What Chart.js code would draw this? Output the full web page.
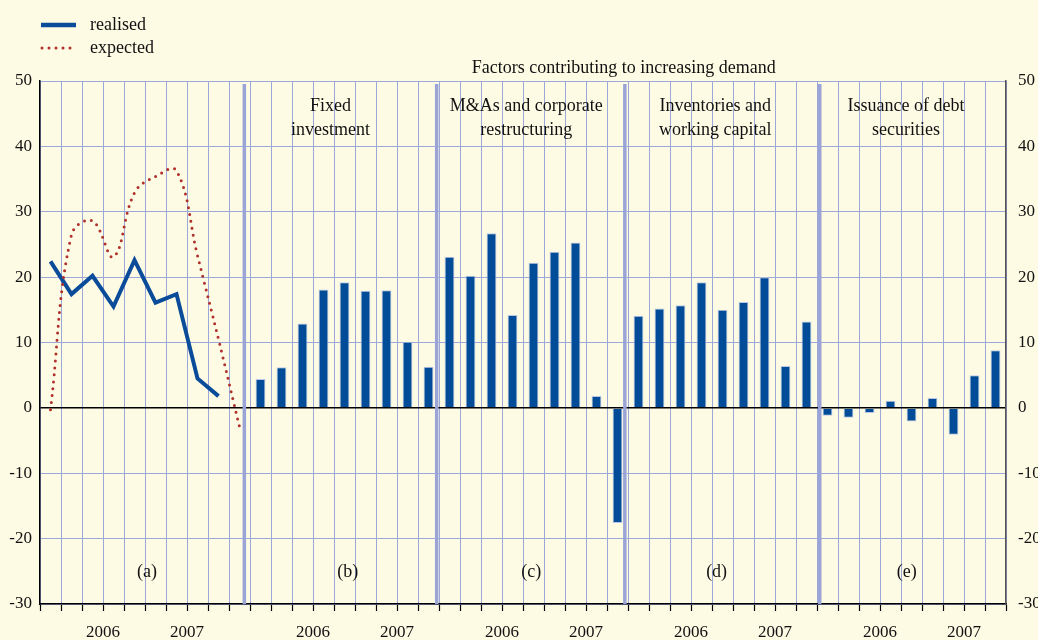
<!DOCTYPE html>
<html>
<head>
<meta charset="utf-8">
<script src="https://cdn.jsdelivr.net/npm/chart.js@4.4.1/dist/chart.umd.min.js"></script>
<style>
  html, body { margin: 0; padding: 0; background: #FEFBE5; }
  #wrap { width: 1038px; height: 640px; position: relative; }
</style>
</head>
<body>
<div id="wrap"><canvas id="c" width="1038" height="640"></canvas></div>
<script>
// ---------------- data ----------------
const quarters = ['2005Q4','2006Q1','2006Q2','2006Q3','2006Q4','2007Q1','2007Q2','2007Q3','2007Q4','2008Q1'];
const panelIds = ['a','b','c','d','e'];
const panelLetters = ['(a)','(b)','(c)','(d)','(e)'];
const panelTitles = [[], ['Fixed','investment'], ['M&As and corporate','restructuring'], ['Inventories and','working capital'], ['Issuance of debt','securities']];
const mainTitle = 'Factors contributing to increasing demand';
const seriesLabels = ['realised', 'expected'];

const realised = [22.4, 17.4, 20.2, 15.5, 22.6, 16.1, 17.4, 4.5, 1.8];
const expected = [-0.3, 26.5, 28.6, 23.1, 32.9, 35.4, 36.3, 23.3, 10.5, -2.9];
const fixedInvestment = [4.4, 6.2, 12.9, 18.1, 19.2, 17.9, 18.0, 10.1, 6.3];
const mergersRestructuring = [23.1, 20.2, 26.7, 14.2, 22.2, 23.9, 25.3, 1.8, -17.6];
const inventoriesWorkingCapital = [14.1, 15.2, 15.7, 19.2, 15.0, 16.2, 20.0, 6.4, 13.2];
const debtSecurities = [-1.2, -1.5, -0.8, 1.1, -2.1, 1.5, -4.1, 5.0, 8.8];
const yearLabels = ['2006', '2007'];
const yTicks = [-30, -20, -10, 0, 10, 20, 30, 40, 50];

// ---------------- build ----------------
const panelQuarterCounts = [10, 9, 9, 9, 9];
const labels = [];
const panelStarts = [];
panelQuarterCounts.forEach((n, p) => {
  panelStarts.push(labels.length);
  quarters.slice(0, n).forEach(q => labels.push(panelIds[p] + ':' + q));
});
const N = labels.length;
const pad = (arr, start) => { const out = new Array(N).fill(null); arr.forEach((v, i) => out[start + i] = v); return out; };

const realisedData = pad(realised, panelStarts[0]);
const expectedData = pad(expected, panelStarts[0]);
const barData = new Array(N).fill(null);
[fixedInvestment, mergersRestructuring, inventoriesWorkingCapital, debtSecurities].forEach((arr, k) => {
  arr.forEach((v, i) => barData[panelStarts[k + 1] + i] = v);
});

// year axis: half-quarter slots (2N+1 boundaries-and-centres, no offset);
// a year label sits at the boundary in the middle of its 4 quarters (quarters 1..4 and 5..8 of each panel)
const yearAxisLabels = new Array(2 * N + 1).fill('');
panelStarts.forEach(s => {
  yearAxisLabels[2 * (s + 3)] = yearLabels[0];
  yearAxisLabels[2 * (s + 7)] = yearLabels[1];
});

const FONT = '"Liberation Serif", "Times New Roman", serif';
const GRID = '#9CA7DA';

// ---------------- plugins ----------------
const bgPlugin = {
  id: 'bg',
  beforeDraw(chart) {
    const { ctx, width, height } = chart;
    ctx.save(); ctx.fillStyle = '#FEFBE5'; ctx.fillRect(0, 0, width, height); ctx.restore();
  }
};

const dividerPlugin = {
  id: 'dividers',
  beforeDatasetsDraw(chart, args, opts) {
    const { ctx, chartArea } = chart; const x = chart.scales.x;
    ctx.save();
    ctx.strokeStyle = opts.color; ctx.lineWidth = opts.width;
    opts.positions.forEach(p => {
      const px = x.getPixelForValue(p);
      ctx.beginPath(); ctx.moveTo(px, chartArea.top + 3); ctx.lineTo(px, chartArea.bottom); ctx.stroke();
    });
    ctx.restore();
  }
};

const textPlugin = {
  id: 'panelText',
  afterDatasetsDraw(chart, args, opts) {
    const { ctx, chartArea } = chart; const x = chart.scales.x; const y = chart.scales.y;
    ctx.save();
    ctx.fillStyle = '#111'; ctx.font = '18px ' + FONT;
    ctx.textAlign = 'center'; ctx.textBaseline = 'middle';
    ctx.fillText(mainTitle, x.getPixelForValue(opts.titlePos), chartArea.top - 13);
    panelTitles.forEach((lines, p) => {
      lines.forEach((t, li) => {
        ctx.fillText(t, x.getPixelForValue(opts.headPos[p]), y.getPixelForValue(opts.headY[li]));
      });
      ctx.fillText(panelLetters[p], x.getPixelForValue(opts.letterPos[p]), y.getPixelForValue(opts.letterY));
    });
    ctx.restore();
  }
};

const legendPlugin = {
  id: 'customLegend',
  afterDraw(chart) {
    const { ctx } = chart;
    ctx.save();
    ctx.strokeStyle = '#0B4C9A'; ctx.lineWidth = 4.5; ctx.lineCap = 'butt';
    ctx.beginPath(); ctx.moveTo(41, 25); ctx.lineTo(76, 25); ctx.stroke();
    ctx.strokeStyle = '#B0302A'; ctx.lineWidth = 3; ctx.lineCap = 'round'; ctx.setLineDash([0, 7]);
    ctx.beginPath(); ctx.moveTo(42, 48); ctx.lineTo(76, 48); ctx.stroke();
    ctx.setLineDash([]);
    ctx.fillStyle = '#111'; ctx.font = '18px ' + FONT; ctx.textAlign = 'left'; ctx.textBaseline = 'middle';
    ctx.fillText(chart.data.datasets[0].label, 90, 25);
    ctx.fillText(chart.data.datasets[1].label, 90, 48);
    ctx.restore();
  }
};

// ---------------- chart ----------------
new Chart(document.getElementById('c'), {
  type: 'bar',
  data: {
    labels: labels,
    datasets: [
      {
        type: 'line', label: seriesLabels[0], data: realisedData,
        borderColor: '#0B4C9A', borderWidth: 4, pointRadius: 0, tension: 0,
        borderJoinStyle: 'miter', spanGaps: false, order: 1
      },
      {
        type: 'line', label: seriesLabels[1], data: expectedData,
        borderColor: '#B0302A', borderWidth: 3, pointRadius: 0, tension: 0.4,
        borderDash: [0, 7], borderCapStyle: 'round', spanGaps: false, order: 0
      },
      {
        type: 'bar', label: 'factors', data: barData,
        backgroundColor: '#004C99', borderColor: '#BCC6E4', borderWidth: 1, borderSkipped: 'start',
        barPercentage: 0.47, categoryPercentage: 1, order: 2
      }
    ]
  },
  options: {
    responsive: false, animation: false, devicePixelRatio: 1,
    layout: { padding: { top: 81, left: 0, right: 0, bottom: 0 } },
    plugins: {
      legend: { display: false }, tooltip: { enabled: false }, title: { display: false },
      dividers: { positions: [9.23, 18.39, 27.35, 36.63], color: '#9AA4D6', width: 3.5 },
      panelText: {
        titlePos: 27.3,
        headPos: [null, 13.33, 22.65, 31.65, 40.74],
        headY: [46.2, 42.5],
        letterPos: [4.59, 14.16, 22.89, 31.72, 40.77],
        letterY: -25.2
      }
    },
    scales: {
      x: {
        type: 'category', offset: true, weight: 0,
        grid: { color: GRID, lineWidth: 1, offset: true, drawTicks: true, tickLength: 7, tickColor: '#000', tickWidth: 1.2 },
        border: { display: true, color: '#000', width: 1.5 },
        ticks: { display: false },
        afterFit: s => { s.height = 8; }
      },
      x2: {
        type: 'category', labels: yearAxisLabels, offset: false, position: 'bottom', weight: 1,
        grid: { display: false, drawTicks: false }, border: { display: false },
        ticks: {
          autoSkip: false, maxRotation: 0, minRotation: 0, padding: 10, color: '#111',
          font: { family: FONT, size: 17 },
          callback: function (v, i) { return yearAxisLabels[i]; }
        },
        afterFit: s => { s.height = 28; }
      },
      y: {
        position: 'left', min: -30, max: 50,
        afterBuildTicks: axis => { axis.ticks = yTicks.map(v => ({ value: v })); },
        grid: {
          drawTicks: false,
          color: c => (c.tick && c.tick.value === 0) ? '#000' : GRID,
          lineWidth: c => (c.tick && c.tick.value === 0) ? 1.5 : 1
        },
        border: { display: true, color: '#000', width: 1.5 },
        ticks: { padding: 8, color: '#111', font: { family: FONT, size: 17 } },
        afterFit: s => { s.width = 40; }
      },
      y2: {
        position: 'right', min: -30, max: 50,
        afterBuildTicks: axis => { axis.ticks = yTicks.map(v => ({ value: v })); },
        grid: { drawOnChartArea: false, drawTicks: false },
        border: { display: true, color: '#555', width: 1.5 },
        ticks: { padding: 12, color: '#111', font: { family: FONT, size: 17 } },
        afterFit: s => { s.width = 32; }
      }
    }
  },
  plugins: [bgPlugin, dividerPlugin, textPlugin, legendPlugin]
});
</script>
</body>
</html>
